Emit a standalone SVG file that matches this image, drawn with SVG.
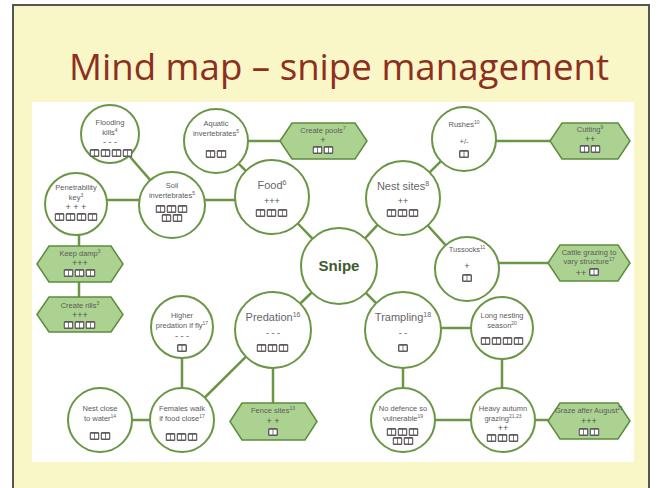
<svg xmlns="http://www.w3.org/2000/svg" xmlns:xlink="http://www.w3.org/1999/xlink" width="660" height="488" viewBox="0 0 660 488">
<style>
text{font-family:"Liberation Sans","Open Sans",Arial,sans-serif;text-anchor:middle;fill:#5c5c5c}
.s{font-size:7.5px}
.m{font-size:11px;fill:#666}
.g{font-size:9px;fill:#555}
.sup{font-size:5px}
.supm{font-size:7px}
.c{fill:#fff;stroke:#6a9646;stroke-width:2}
.h{fill:#abd290;stroke:#5f8c3c;stroke-width:1.5}
.ln{stroke:#6a9646;stroke-width:2.5;fill:none}
</style>
<defs>
<symbol id="bk" viewBox="0 0 10 8">
<rect x="0" y="0" width="10" height="8" rx="1.5" fill="#5f5a5e"/>
<path d="M1.4 1.8 h3.2 v4.6 h-3.2z M5.4 1.8 h3.2 v4.6 h-3.2z" fill="#fff"/>
</symbol>
</defs>
<rect x="0" y="0" width="660" height="488" fill="#fff"/>
<rect x="13" y="5" width="636" height="490" fill="#f9f6c8" stroke="#555" stroke-width="2"/>
<text x="339" y="80" style="font-family:'Open Sans','DejaVu Sans',sans-serif;font-size:37px;fill:#8e2e20" textLength="540" lengthAdjust="spacingAndGlyphs">Mind map – snipe management</text>
<rect x="32" y="102" width="602" height="360" fill="#fff"/>

<g id="connectors">
<line class="ln" x1="312.5" y1="238.7" x2="297.8" y2="223.5"/>
<line class="ln" x1="365" y1="238.3" x2="377.6" y2="224.9"/>
<line class="ln" x1="311.7" y1="292.5" x2="300.3" y2="303.5"/>
<line class="ln" x1="365.9" y1="292.9" x2="376.1" y2="303.1"/>
<line class="ln" x1="245.8" y1="170.8" x2="238.6" y2="163.6"/>
<line class="ln" x1="204.6" y1="200" x2="235.1" y2="200"/>
<line class="ln" x1="106.7" y1="200" x2="139.4" y2="200"/>
<line class="ln" x1="150.3" y1="180.1" x2="129.1" y2="155.8"/>
<line class="ln" x1="248" y1="141" x2="280" y2="141"/>
<line class="ln" x1="429.6" y1="172.3" x2="441" y2="161.2"/>
<line class="ln" x1="495.9" y1="141" x2="550" y2="141"/>
<line class="ln" x1="427.8" y1="225.5" x2="445.6" y2="245.2"/>
<line class="ln" x1="498.4" y1="263" x2="548" y2="263"/>
<line class="ln" x1="441" y1="328" x2="471" y2="328"/>
<line class="ln" x1="502" y1="359" x2="502" y2="388"/>
<line class="ln" x1="403" y1="368" x2="403" y2="388"/>
<line class="ln" x1="435" y1="420" x2="471" y2="420"/>
<line class="ln" x1="535" y1="420" x2="548" y2="420"/>
<line class="ln" x1="273" y1="368" x2="273" y2="403"/>
<line class="ln" x1="246" y1="356.7" x2="204.8" y2="397.5"/>
<line class="ln" x1="182" y1="358" x2="182" y2="388"/>
<line class="ln" x1="132" y1="420" x2="150" y2="420"/>
<line class="ln" x1="79" y1="235" x2="79" y2="246"/>
<line class="ln" x1="79" y1="282" x2="79" y2="297"/>
</g>

<g id="flooding">
<circle class="c" cx="110" cy="134" r="29"/>
<text class="s" x="110" y="125">Flooding</text>
<text class="s" x="110" y="135">kills<tspan class="sup" dy="-3">4</tspan></text>
<text class="g" x="110" y="145">- - -</text>
<use xlink:href="#bk" x="89.5" y="149" width="10" height="8"/><use xlink:href="#bk" x="100.5" y="149" width="10" height="8"/><use xlink:href="#bk" x="111.5" y="149" width="10" height="8"/><use xlink:href="#bk" x="122.5" y="149" width="10" height="8"/>
</g>

<g id="aquatic">
<circle class="c" cx="216" cy="141" r="32"/>
<text class="s" x="216" y="126">Aquatic</text>
<text class="s" x="216" y="136">invertebrates<tspan class="sup" dy="-3">5</tspan></text>
<use xlink:href="#bk" x="205.5" y="150" width="10" height="8"/><use xlink:href="#bk" x="216.5" y="150" width="10" height="8"/>
</g>

<g id="pools">
<polygon class="h" points="280,141 292,123 355,123 367,141 355,159 292,159"/>
<text class="s" x="323" y="133">Create pools<tspan class="sup" dy="-3">7</tspan></text>
<text class="g" x="323" y="143">+</text>
<use xlink:href="#bk" x="312.5" y="146" width="10" height="8"/><use xlink:href="#bk" x="323.5" y="146" width="10" height="8"/>
</g>

<g id="food">
<circle class="c" cx="272" cy="197" r="37"/>
<text class="m" x="272" y="189">Food<tspan class="supm" dy="-4">6</tspan></text>
<text class="g" x="272" y="204">+++</text>
<use xlink:href="#bk" x="255.5" y="209" width="10" height="8"/><use xlink:href="#bk" x="266.5" y="209" width="10" height="8"/><use xlink:href="#bk" x="277.5" y="209" width="10" height="8"/>
</g>

<g id="soil">
<circle class="c" cx="172" cy="205" r="33"/>
<text class="s" x="172" y="188">Soil</text>
<text class="s" x="172" y="198">invertebrates<tspan class="sup" dy="-3">5</tspan></text>
<use xlink:href="#bk" x="155.5" y="205" width="10" height="8"/><use xlink:href="#bk" x="166.5" y="205" width="10" height="8"/><use xlink:href="#bk" x="177.5" y="205" width="10" height="8"/>
<use xlink:href="#bk" x="161.5" y="214" width="10" height="8"/><use xlink:href="#bk" x="172.5" y="214" width="10" height="8"/>
</g>

<g id="penetrability">
<circle class="c" cx="76" cy="204" r="31"/>
<text class="s" x="76" y="190">Penetrability</text>
<text class="s" x="76" y="200">key<tspan class="sup" dy="-3">3</tspan></text>
<text class="g" x="76" y="210">+ + +</text>
<use xlink:href="#bk" x="54.5" y="213" width="10" height="8"/><use xlink:href="#bk" x="65.5" y="213" width="10" height="8"/><use xlink:href="#bk" x="76.5" y="213" width="10" height="8"/><use xlink:href="#bk" x="87.5" y="213" width="10" height="8"/>
</g>

<g id="keepdamp">
<polygon class="h" points="37,264 49,246 111,246 123,264 111,282 49,282"/>
<text class="s" x="80" y="256">Keep damp<tspan class="sup" dy="-3">3</tspan></text>
<text class="g" x="80" y="266">+++</text>
<use xlink:href="#bk" x="63.5" y="269" width="10" height="8"/><use xlink:href="#bk" x="74.5" y="269" width="10" height="8"/><use xlink:href="#bk" x="85.5" y="269" width="10" height="8"/>
</g>

<g id="rills">
<polygon class="h" points="37,314.5 49,297 111,297 123,314.5 111,332 49,332"/>
<text class="s" x="80" y="308">Create rills<tspan class="sup" dy="-3">3</tspan></text>
<text class="g" x="80" y="318">+++</text>
<use xlink:href="#bk" x="63.5" y="321" width="10" height="8"/><use xlink:href="#bk" x="74.5" y="321" width="10" height="8"/><use xlink:href="#bk" x="85.5" y="321" width="10" height="8"/>
</g>

<g id="higher">
<circle class="c" cx="182" cy="327" r="31"/>
<text class="s" x="182" y="318">Higher</text>
<text class="s" x="182" y="328">predation if fly<tspan class="sup" dy="-3">17</tspan></text>
<text class="g" x="182" y="339">- - -</text>
<use xlink:href="#bk" x="177" y="344" width="10" height="8"/>
</g>

<g id="females">
<circle class="c" cx="182" cy="420" r="32"/>
<text class="s" x="182" y="411">Females walk</text>
<text class="s" x="182" y="421">if food close<tspan class="sup" dy="-3">17</tspan></text>
<use xlink:href="#bk" x="165.5" y="433" width="10" height="8"/><use xlink:href="#bk" x="176.5" y="433" width="10" height="8"/><use xlink:href="#bk" x="187.5" y="433" width="10" height="8"/>
</g>

<g id="nestclose">
<circle class="c" cx="100" cy="420" r="32"/>
<text class="s" x="100" y="411">Nest close</text>
<text class="s" x="100" y="421">to water<tspan class="sup" dy="-3">14</tspan></text>
<use xlink:href="#bk" x="89.5" y="432" width="10" height="8"/><use xlink:href="#bk" x="100.5" y="432" width="10" height="8"/>
</g>

<g id="predation">
<circle class="c" cx="273" cy="330" r="38"/>
<text class="m" x="273" y="321">Predation<tspan class="supm" dy="-4">16</tspan></text>
<text class="g" x="273" y="336">- - -</text>
<use xlink:href="#bk" x="256.5" y="344" width="10" height="8"/><use xlink:href="#bk" x="267.5" y="344" width="10" height="8"/><use xlink:href="#bk" x="278.5" y="344" width="10" height="8"/>
</g>

<g id="fence">
<polygon class="h" points="230,421.5 242,403 305,403 317,421.5 305,440 242,440"/>
<text class="s" x="273" y="413">Fence sites<tspan class="sup" dy="-3">13</tspan></text>
<text class="g" x="273" y="424">+ +</text>
<use xlink:href="#bk" x="268" y="428" width="10" height="8"/>
</g>

<g id="snipe">
<circle class="c" cx="339" cy="266" r="38"/>
<text x="339" y="271" style="font-size:15px;font-weight:bold;fill:#3d5c2c">Snipe</text>
</g>

<g id="nestsites">
<circle class="c" cx="403" cy="198" r="37"/>
<text class="m" x="403" y="190">Nest sites<tspan class="supm" dy="-4">8</tspan></text>
<text class="g" x="403" y="204">++</text>
<use xlink:href="#bk" x="386.5" y="209" width="10" height="8"/><use xlink:href="#bk" x="397.5" y="209" width="10" height="8"/><use xlink:href="#bk" x="408.5" y="209" width="10" height="8"/>
</g>

<g id="rushes">
<circle class="c" cx="464" cy="139" r="32"/>
<text class="s" x="464" y="127">Rushes<tspan class="sup" dy="-3">10</tspan></text>
<text class="s" x="464" y="144">+/-</text>
<use xlink:href="#bk" x="459" y="150" width="10" height="8"/>
</g>

<g id="cutting">
<polygon class="h" points="550,141 562,123 618,123 630,141 618,159 562,159"/>
<text class="s" x="590" y="132">Cutting<tspan class="sup" dy="-3">9</tspan></text>
<text class="g" x="590" y="142">++</text>
<use xlink:href="#bk" x="579.5" y="145" width="10" height="8"/><use xlink:href="#bk" x="590.5" y="145" width="10" height="8"/>
</g>

<g id="tussocks">
<circle class="c" cx="467" cy="269" r="32"/>
<text class="s" x="467" y="252">Tussocks<tspan class="sup" dy="-3">11</tspan></text>
<text class="g" x="467" y="269">+</text>
<use xlink:href="#bk" x="462" y="274" width="10" height="8"/>
</g>

<g id="cattle">
<polygon class="h" points="548,263 560,245 618,245 630,263 618,281 560,281"/>
<text class="s" x="589" y="255">Cattle grazing to</text>
<text class="s" x="589" y="264">vary structure<tspan class="sup" dy="-3">17</tspan></text>
<text class="g" x="581" y="276">++</text>
<use xlink:href="#bk" x="589" y="268" width="10" height="8"/>
</g>

<g id="trampling">
<circle class="c" cx="403" cy="330" r="38"/>
<text class="m" x="403" y="321">Trampling<tspan class="supm" dy="-4">18</tspan></text>
<text class="g" x="403" y="336">- -</text>
<use xlink:href="#bk" x="398" y="344" width="10" height="8"/>
</g>

<g id="longnesting">
<circle class="c" cx="502" cy="328" r="31"/>
<text class="s" x="502" y="318">Long nesting</text>
<text class="s" x="502" y="328">season<tspan class="sup" dy="-3">20</tspan></text>
<use xlink:href="#bk" x="480.5" y="337" width="10" height="8"/><use xlink:href="#bk" x="491.5" y="337" width="10" height="8"/><use xlink:href="#bk" x="502.5" y="337" width="10" height="8"/><use xlink:href="#bk" x="513.5" y="337" width="10" height="8"/>
</g>

<g id="nodefence">
<circle class="c" cx="403" cy="420" r="32"/>
<text class="s" x="403" y="411">No defence so</text>
<text class="s" x="403" y="421">vulnerable<tspan class="sup" dy="-3">19</tspan></text>
<use xlink:href="#bk" x="386.5" y="428" width="10" height="8"/><use xlink:href="#bk" x="397.5" y="428" width="10" height="8"/><use xlink:href="#bk" x="408.5" y="428" width="10" height="8"/>
<use xlink:href="#bk" x="392.5" y="437" width="10" height="8"/><use xlink:href="#bk" x="403.5" y="437" width="10" height="8"/>
</g>

<g id="heavy">
<circle class="c" cx="503" cy="420" r="32"/>
<text class="s" x="503" y="411">Heavy autumn</text>
<text class="s" x="503" y="421">grazing<tspan class="sup" dy="-3">21,23</tspan></text>
<text class="g" x="503" y="431">++</text>
<use xlink:href="#bk" x="486.5" y="434" width="10" height="8"/><use xlink:href="#bk" x="497.5" y="434" width="10" height="8"/><use xlink:href="#bk" x="508.5" y="434" width="10" height="8"/>
</g>

<g id="graze">
<polygon class="h" points="548,421 560,403 618,403 630,421 618,439 560,439"/>
<text class="s" x="589" y="413">Graze after August<tspan class="sup" dy="-3">21</tspan></text>
<text class="g" x="589" y="424">+++</text>
<use xlink:href="#bk" x="578.5" y="428" width="10" height="8"/><use xlink:href="#bk" x="589.5" y="428" width="10" height="8"/>
</g>
</svg>
